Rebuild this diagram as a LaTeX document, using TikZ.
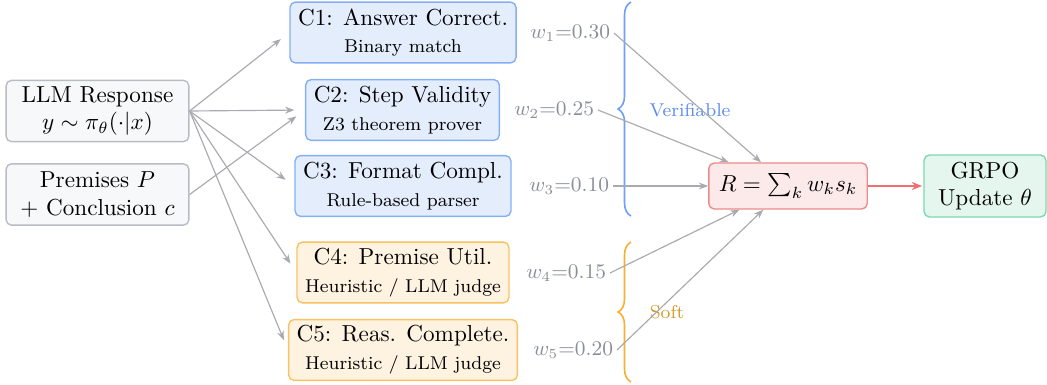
\documentclass[tikz,border=0pt]{standalone}
\usetikzlibrary{arrows.meta,decorations.pathreplacing}
\definecolor{gbfill}{HTML}{F7F8FA}
\definecolor{gbdraw}{HTML}{B8BCC4}
\definecolor{bfill}{HTML}{E3EDFC}
\definecolor{bdraw}{HTML}{86AEF5}
\definecolor{ofill}{HTML}{FEF3E0}
\definecolor{odraw}{HTML}{F8C262}
\definecolor{rfill}{HTML}{FCEAEA}
\definecolor{rdraw}{HTML}{EE8A8A}
\definecolor{grfill}{HTML}{E4F6EE}
\definecolor{grdraw}{HTML}{7DD8AE}
\definecolor{conn}{HTML}{A8AAB0}
\definecolor{wtext}{HTML}{8A8E99}
\definecolor{vblue}{HTML}{5A8CF0}
\definecolor{sgold}{HTML}{D49A2A}
\definecolor{braceblue}{HTML}{6FA0F5}
\definecolor{braceorange}{HTML}{F5B133}
\definecolor{redarrow}{HTML}{EE7070}
\tikzset{
  basebox/.style={draw, rounded corners=2.4pt, align=center, line width=0.6pt, inner xsep=3.5pt, inner ysep=2pt},
  inbox/.style={basebox, fill=gbfill, draw=gbdraw, minimum width=79pt, minimum height=26.5pt},
  vbox/.style={basebox, fill=bfill, draw=bdraw, minimum height=26.3pt},
  sbox/.style={basebox, fill=ofill, draw=odraw, minimum height=26.3pt},
  rbox/.style={basebox, fill=rfill, draw=rdraw, inner xsep=4.3pt, minimum height=19.9pt},
  gbox/.style={basebox, fill=grfill, draw=grdraw, minimum width=52.7pt, minimum height=26.8pt},
  wlabel/.style={text=wtext, inner sep=1.5pt, anchor=east, font=\small},
  conna/.style={draw=conn, line width=0.5pt, -{Stealth[length=4pt,width=3pt]}},
  inarrow/.style={conna, shorten >=4.6pt},
}
\begin{document}
\begin{tikzpicture}[x=0.432pt,y=-0.432pt]
\useasboundingbox (0,0) rectangle (1047,385);
% inputs
\node[inbox] (llm) at (97.5,111) {LLM Response\\$y\sim\pi_\theta(\cdot|x)$};
\node[inbox] (prem) at (97.5,194.5) {Premises $P$\\+ Conclusion $c$};
% criteria
\node[vbox] (c1) at (403,32.5) {C1: Answer Correct.\\{\footnotesize Binary match}};
\node[vbox] (c2) at (402.5,110) {C2: Step Validity\\{\footnotesize Z3 theorem prover}};
\node[vbox] (c3) at (403,186) {C3: Format Compl.\\{\footnotesize Rule-based parser}};
\node[sbox] (c4) at (403,272.5) {C4: Premise Util.\\{\footnotesize Heuristic / LLM judge}};
\node[sbox] (c5) at (403,350) {C5: Reas. Complete.\\{\footnotesize Heuristic / LLM judge}};
% weights
\node[wlabel] (w1) at (614,33) {$w_1$=0.30};
\node[wlabel] (w2) at (598,110) {$w_2$=0.25};
\node[wlabel] (w3) at (613,186) {$w_3$=0.10};
\node[wlabel] (w4) at (610,273) {$w_4$=0.15};
\node[wlabel] (w5) at (617,350) {$w_5$=0.20};
% reward and update
\node[rbox] (R) at (788,186) {$R=\sum_k w_k s_k$};
\node[gbox] (G) at (985,186) {GRPO\\Update $\theta$};
% input arrows
\draw[inarrow] (llm.east) -- (c1.west);
\draw[inarrow] (llm.east) -- (c2.west);
\draw[inarrow] (llm.east) -- (c3.west);
\draw[inarrow] (llm.east) -- (c4.west);
\draw[inarrow] (llm.east) -- (c5.west);
\draw[inarrow] (prem.east) -- (c2.west);
% braces
\coordinate (vb1) at (631,216);
\coordinate (vb2) at (631,2);
\coordinate (sb1) at (631,382);
\coordinate (sb2) at (631,242);
\draw[braceblue, line width=0.7pt, decorate, decoration={brace, amplitude=5.6pt}] (vb1) -- (vb2);
\draw[braceorange, line width=0.7pt, decorate, decoration={brace, amplitude=5.6pt}] (sb1) -- (sb2);
\node[text=vblue, font=\footnotesize] (vlab) at (690,110) {Verifiable};
\node[text=sgold, font=\footnotesize] (slab) at (667,312) {Soft};
% weight arrows
\draw[conna] (w1.east) -- (R);
\draw[conna] (w2.east) -- (R);
\draw[conna] (w3.east) -- (R);
\draw[conna] (w4.east) -- (R);
\draw[conna] (w5.east) -- (R);
% output
\draw[draw=redarrow, line width=0.9pt, -{Stealth[length=4.5pt,width=3.5pt]}, shorten >=0.5pt] (R) -- (G);
\end{tikzpicture}
\end{document}
